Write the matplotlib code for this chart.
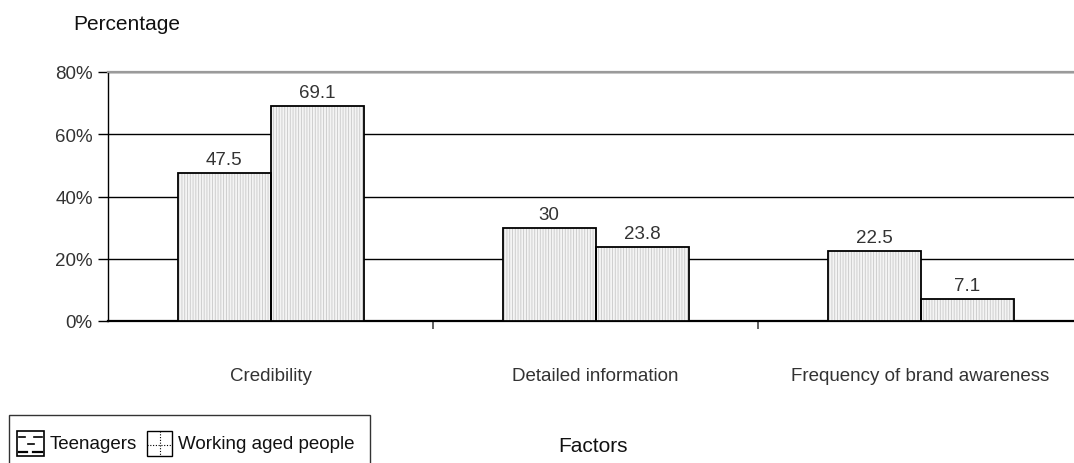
import matplotlib
matplotlib.use("Agg")
import matplotlib.pyplot as plt
from matplotlib.patches import Rectangle
from matplotlib.lines import Line2D
import numpy as np

plt.rcParams['font.family'] = ['Liberation Sans', 'DejaVu Sans']
plt.rcParams['hatch.linewidth'] = 0.6

categories = ["Credibility", "Detailed information", "Frequency of brand awareness"]
teenagers = [47.5, 30, 22.5]
working = [69.1, 23.8, 7.1]
series_names = ["Teenagers", "Working aged people"]
y_ticks = [0, 20, 40, 60, 80]
y_tick_labels = ["0%", "20%", "40%", "60%", "80%"]

W, H = 1074, 464
fig = plt.figure(figsize=(W / 100, H / 100), dpi=100)


def fx(px):
    return px / W


def fy(py):
    return 1 - py / H


ax = fig.add_axes([fx(108), fy(322), 975 / W, 249 / H])

x = np.arange(len(categories)) + 0.5
bw = 93 / 325
# fine light-grey vertical hatch fill, then a black outline on top
fill_kw = dict(width=bw, facecolor='#f4f4f4', edgecolor='#c8c8c8', linewidth=0,
               hatch='||||||', zorder=3)
edge_kw = dict(width=bw, facecolor='none', edgecolor='black', linewidth=1.3, zorder=4)
b1 = ax.bar(x - bw / 2, teenagers, **fill_kw)
b2 = ax.bar(x + bw / 2, working, **fill_kw)
ax.bar(x - bw / 2, teenagers, **edge_kw)
ax.bar(x + bw / 2, working, **edge_kw)

for bars, vals in ((b1, teenagers), (b2, working)):
    for rect, v in zip(bars, vals):
        ax.annotate(f"{v:g}", (rect.get_x() + rect.get_width() / 2, v),
                    xytext=(0, 3.5), textcoords='offset points',
                    ha='center', va='bottom', fontsize=13.5, color='#333333')

ax.set_xlim(0, 3)
ax.set_ylim(0, 80)
ax.set_yticks(y_ticks)
ax.set_yticklabels(y_tick_labels, fontsize=13.5, color='#333333')
ax.yaxis.grid(True, color='black', linewidth=1.0, zorder=0)
ax.set_axisbelow(True)
ax.tick_params(axis='y', length=7, width=1.0, pad=4)

# category dividers as downward ticks; labels placed below
ax.set_xticks([1, 2])
ax.set_xticklabels([])
ax.tick_params(axis='x', length=6, width=1.3, color='#555555', direction='out')
for xi, lab in zip(x, categories):
    ax.text(xi, -17.5, lab, ha='center', va='center', fontsize=13.5, color='#333333')

ax.spines['top'].set_color('#9a9a9a')
ax.spines['top'].set_linewidth(1.6)
ax.spines['right'].set_visible(False)
ax.spines['left'].set_linewidth(1.0)
ax.spines['bottom'].set_linewidth(1.6)

fig.text(fx(73), fy(24), "Percentage", ha='left', va='center', fontsize=15, color='#111111')
fig.text(fx(593), fy(447), "Factors", ha='center', va='center', fontsize=15, color='#111111')

# legend box
fig.patches.append(Rectangle((fx(9), -0.05), 361 / W, fy(416) + 0.05,
                             transform=fig.transFigure, facecolor='white',
                             edgecolor='#333333', linewidth=1.0))

# Teenagers swatch: framed box with rows of short dashes
sx0, sx1, sy0, sy1 = 17, 44, 432, 457
fig.patches.append(Rectangle((fx(sx0), fy(sy1)), (sx1 - sx0) / W, (sy1 - sy0) / H,
                             transform=fig.transFigure, facecolor='white',
                             edgecolor='black', linewidth=1.2))
dash_rows = [(438, [(19, 25), (34, 42)]),
             (445, [(28, 34)]),
             (453, [(19, 27), (33, 42)])]
for yy, segs in dash_rows:
    for a, b in segs:
        fig.lines.append(Line2D([fx(a), fx(b)], [fy(yy), fy(yy)], transform=fig.transFigure,
                                color='black', linewidth=1.6 if yy == 453 else 1.2))
fig.text(fx(50), fy(445), series_names[0], ha='left', va='center', fontsize=13.5, color='#111111')

# Working aged people swatch: framed box with dotted cross
wx0, wx1 = 147, 172
fig.patches.append(Rectangle((fx(wx0), fy(sy1)), (wx1 - wx0) / W, (sy1 - sy0) / H,
                             transform=fig.transFigure, facecolor='white',
                             edgecolor='black', linewidth=1.0))
fig.lines.append(Line2D([fx((wx0 + wx1) / 2)] * 2, [fy(sy0), fy(sy1)], transform=fig.transFigure,
                        color='black', linewidth=0.8, linestyle=(0, (1, 1.5))))
fig.lines.append(Line2D([fx(wx0), fx(wx1)], [fy(446)] * 2, transform=fig.transFigure,
                        color='black', linewidth=0.8, linestyle=(0, (1, 1.5))))
fig.text(fx(178), fy(445), series_names[1], ha='left', va='center', fontsize=13.5, color='#111111')

fig.savefig("out.png", dpi=100)
